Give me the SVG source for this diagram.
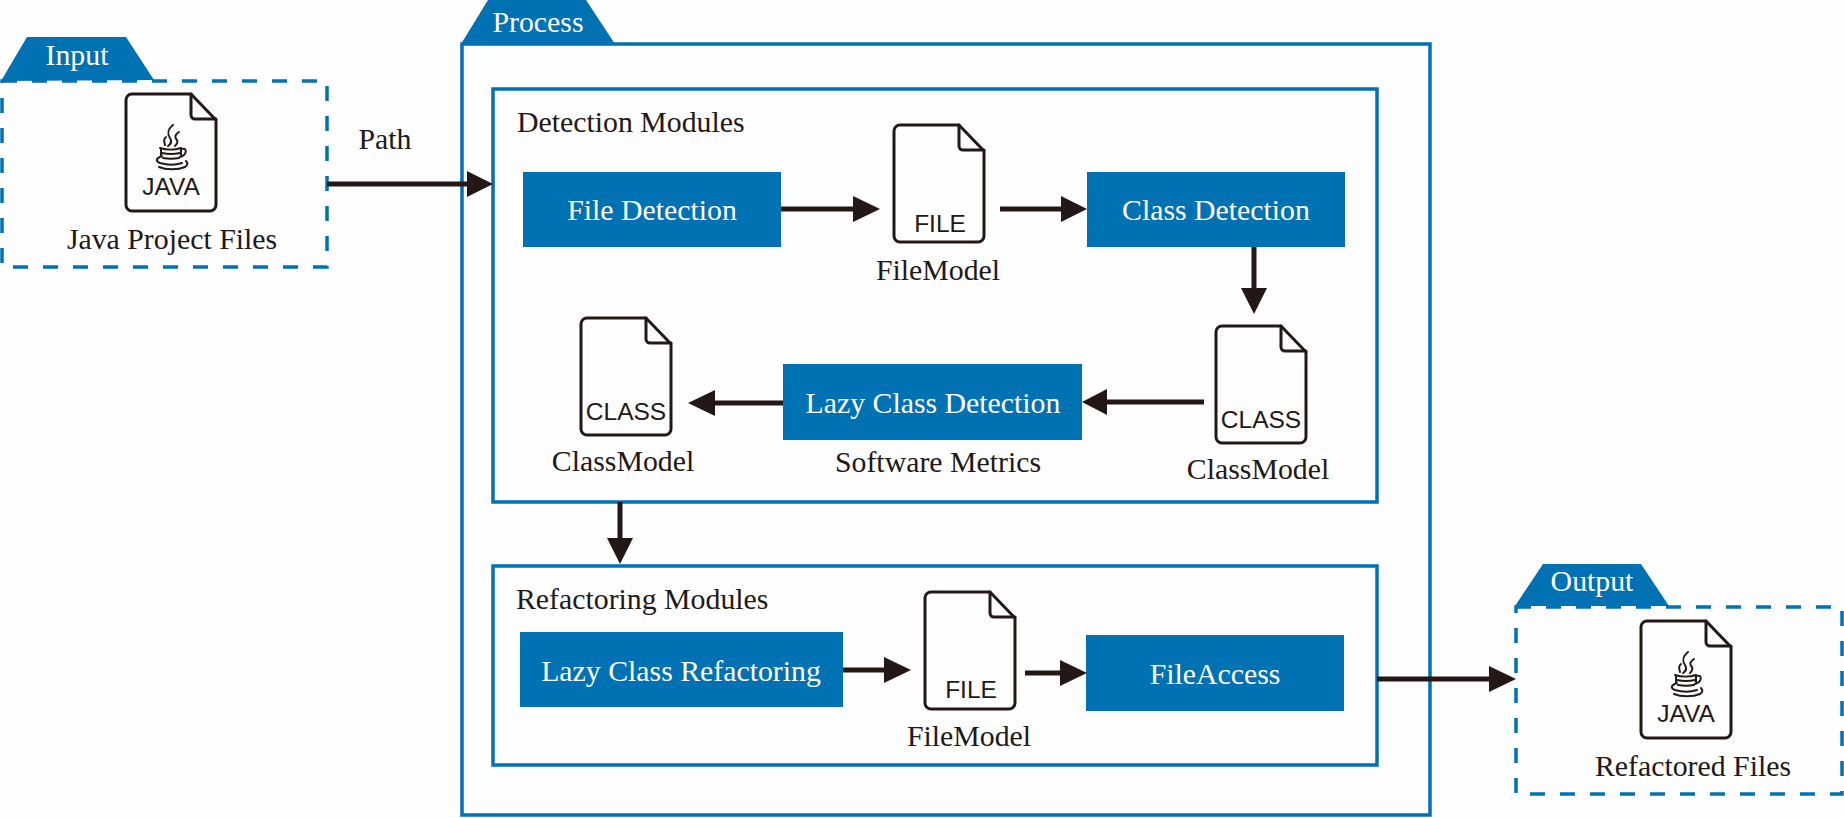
<svg xmlns="http://www.w3.org/2000/svg" xmlns:xlink="http://www.w3.org/1999/xlink" width="1844" height="818" viewBox="0 0 1844 818">
<style>
text{font-family:"Liberation Serif","Times New Roman",serif;font-size:29.8px;fill:#231815;text-anchor:middle}
.w{fill:#fff}
.s{text-anchor:start}
.i{font-family:"Liberation Sans",Arial,sans-serif;font-size:24.5px}
.tab,.box{fill:#0071b2}
.solid{fill:none;stroke:#0071b2;stroke-width:3.5}
.dash{fill:none;stroke:#0071b2;stroke-width:3.5;stroke-dasharray:15 15}
.ln{stroke:#231815;stroke-width:5;fill:none}
.hd{fill:#231815}
.ic{fill:none;stroke:#231815;stroke-width:3;stroke-linejoin:round;stroke-linecap:round}
.th{stroke-width:2}
</style>
<defs>
<g id="file"><path class="ic" d="M7 1H66L91 27V112a6 6 0 0 1-6 6H7a6 6 0 0 1-6-6V7a6 6 0 0 1 6-6Z"/><path class="ic" d="M66 1V22a4 4 0 0 0 4 4H91"/></g>
<g id="cup"><path class="ic th" d="M48 32c-7 6-5 10-3 13 2 3 1 6-2 8M54 39c-5 3-4 6-2 8 1 2 0 4-2 6M41 44c-3 2-2 5-1 8"/><path class="ic th" d="M35 55C41 57 50 57 56 55M37 60c5 1 13 1 18 0M38 65c5 1 11 1 16 0M36 55V62M56 55V62M56 56c6-2 7 5-1 8"/><path class="ic th" d="M37 63c-6 2-7 5-2 7 7 2 16 2 22 0M34 74c7 3 19 3 26 0 3-2 3-4 1-6"/></g>
</defs>
<rect width="1844" height="818" fill="#fefefe"/>
<g id="input">
<rect class="dash" x="2" y="81" width="325" height="186"/>
<polygon class="tab" points="1,81 27,37 126,37 154,80"/>
<text class="w" x="77" y="65">Input</text>
<use href="#file" x="125" y="93"/><use href="#cup" x="125" y="93"/>
<text class="i" x="171" y="195">JAVA</text>
<text x="172" y="249">Java Project Files</text>
</g>
<g id="process">
<rect class="solid" x="462" y="44" width="968" height="771"/>
<polygon class="tab" points="461,44 488,0 586,0 615,44"/>
<text class="w" x="538" y="32">Process</text>
</g>
<g id="detection-modules">
<rect class="solid" x="493" y="89" width="884" height="413"/>
<text class="s" x="517" y="132">Detection Modules</text>
</g>
<g id="refactoring-modules">
<rect class="solid" x="493" y="566" width="884" height="199"/>
<text class="s" x="516" y="609">Refactoring Modules</text>
</g>
<g id="file-detection"><rect class="box" x="523" y="172" width="258" height="75"/><text class="w" x="652" y="220">File Detection</text></g>
<g id="file-model-1"><use href="#file" x="893" y="124"/><text class="i" x="940" y="232">FILE</text><text x="938" y="280">FileModel</text></g>
<g id="class-detection"><rect class="box" x="1087" y="172" width="258" height="75"/><text class="w" x="1216" y="220">Class Detection</text></g>
<g id="class-model-right"><use href="#file" x="1215" y="325"/><text class="i" x="1261" y="428">CLASS</text><text x="1258" y="479">ClassModel</text></g>
<g id="lazy-class-detection"><rect class="box" x="783" y="364" width="299" height="76"/><text class="w" x="933" y="413">Lazy Class Detection</text><text x="938" y="472">Software Metrics</text></g>
<g id="class-model-left"><use href="#file" x="580" y="317"/><text class="i" x="626" y="420">CLASS</text><text x="623" y="471">ClassModel</text></g>
<g id="lazy-class-refactoring"><rect class="box" x="520" y="632" width="323" height="75"/><text class="w" x="681" y="681">Lazy Class Refactoring</text></g>
<g id="file-model-2"><use href="#file" x="924" y="591"/><text class="i" x="971" y="698">FILE</text><text x="969" y="746">FileModel</text></g>
<g id="file-access"><rect class="box" x="1086" y="635" width="258" height="76"/><text class="w" x="1215" y="684">FileAccess</text></g>
<g id="output">
<rect class="dash" x="1516" y="607" width="326" height="187"/>
<polygon class="tab" points="1515,606 1543,564 1641,564 1669,606"/>
<text class="w" x="1592" y="591">Output</text>
<use href="#file" x="1640" y="620"/><use href="#cup" x="1640" y="620"/>
<text class="i" x="1686" y="722">JAVA</text>
<text x="1693" y="776">Refactored Files</text>
</g>
<g id="connectors">
<text x="385" y="149">Path</text>
<path class="ln" d="M327 184H470"/><polygon class="hd" points="493,184 467,171 467,197"/>
<path class="ln" d="M781 209H856"/><polygon class="hd" points="880,209 853,196 853,222"/>
<path class="ln" d="M1000 209H1064"/><polygon class="hd" points="1087,209 1061,196 1061,222"/>
<path class="ln" d="M1254 247V291"/><polygon class="hd" points="1254,314 1241,288 1267,288"/>
<path class="ln" d="M1204 402H1105"/><polygon class="hd" points="1082,402 1107,389 1107,415"/>
<path class="ln" d="M783 403H712"/><polygon class="hd" points="688,403 715,390 715,416"/>
<path class="ln" d="M620 502V541"/><polygon class="hd" points="620,564 607,538 633,538"/>
<path class="ln" d="M843 670H887"/><polygon class="hd" points="911,670 884,657 884,683"/>
<path class="ln" d="M1025 673H1063"/><polygon class="hd" points="1087,673 1060,660 1060,686"/>
<path class="ln" d="M1377 679H1492"/><polygon class="hd" points="1516,679 1489,666 1489,692"/>
</g>
</svg>
